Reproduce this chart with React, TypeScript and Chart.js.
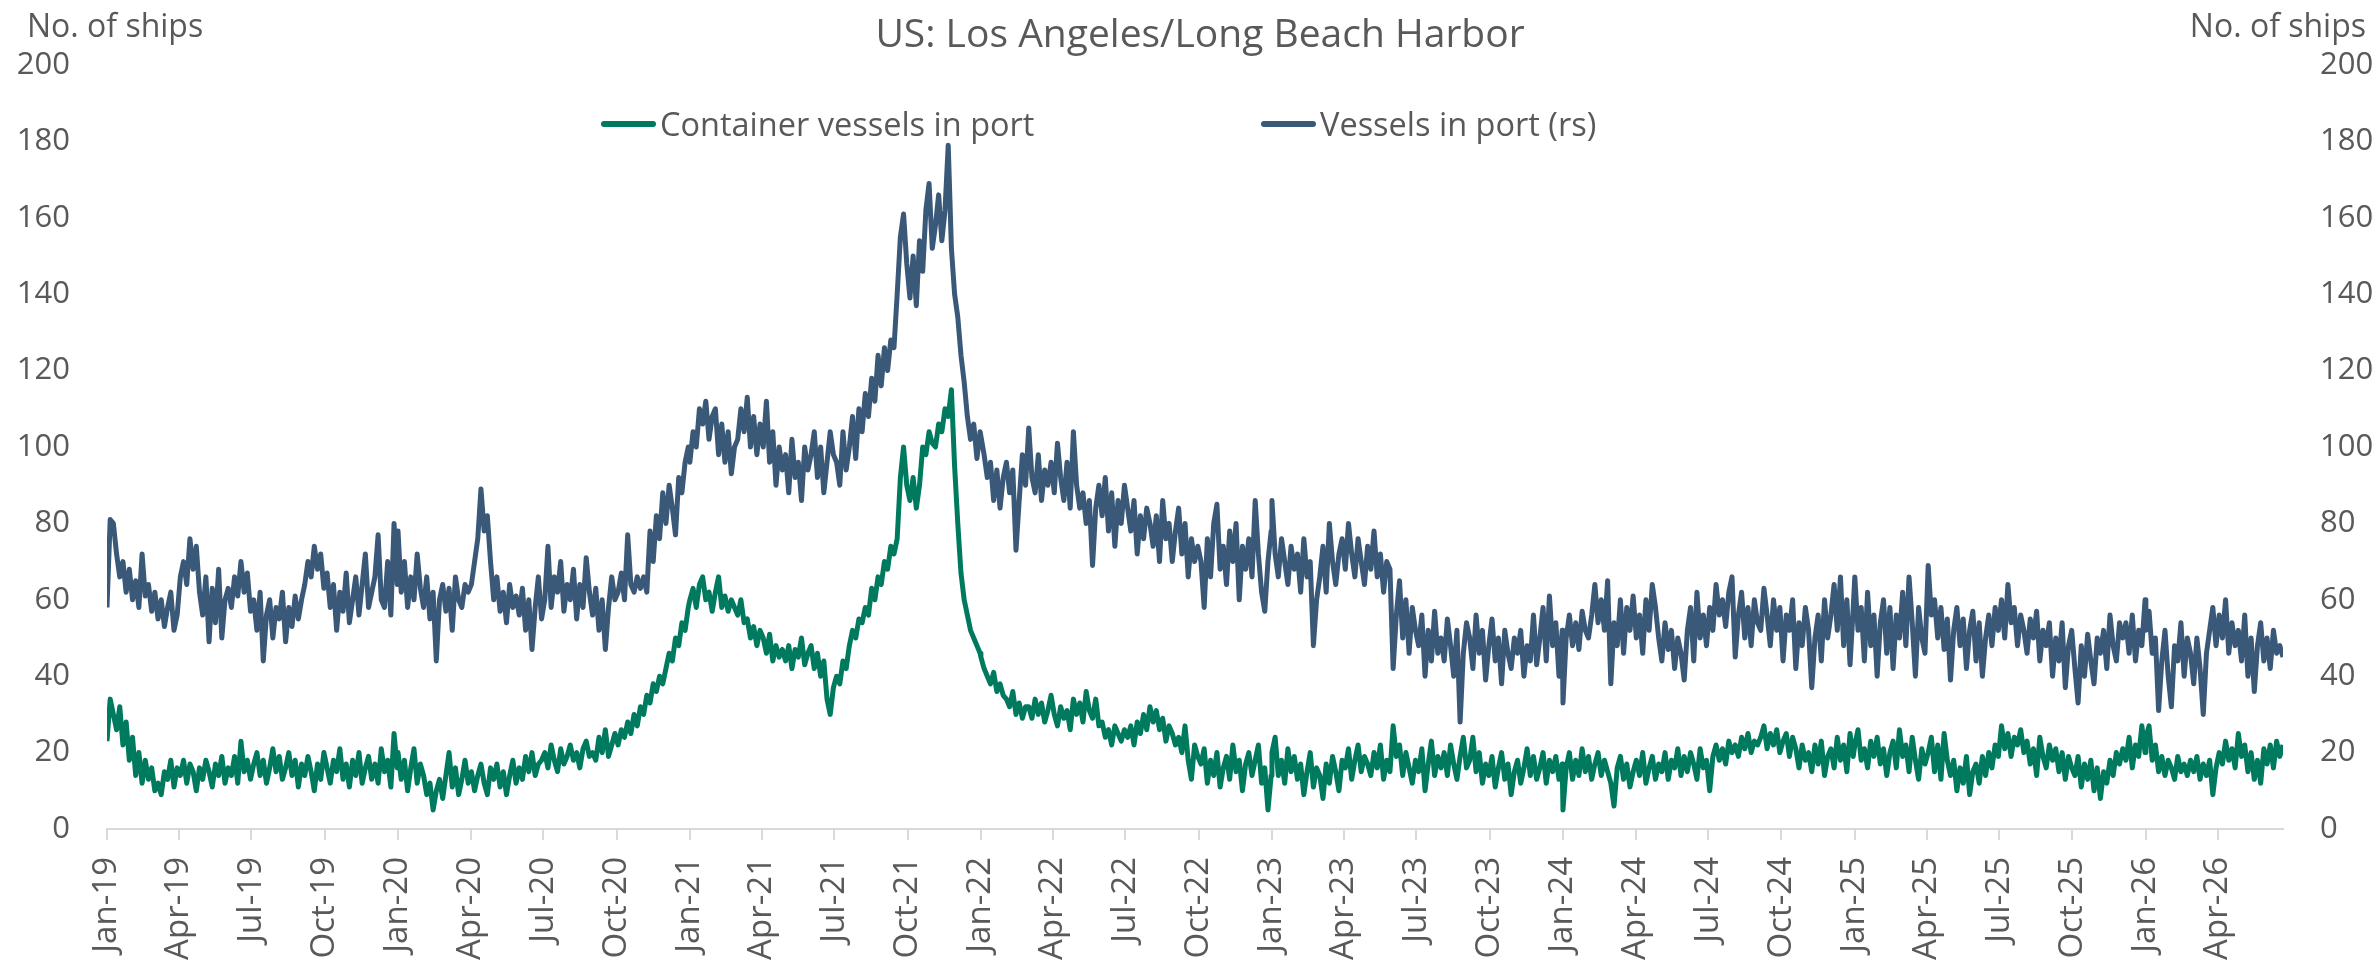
import React, { useEffect, useRef } from "react";
import { Chart, registerables } from "chart.js";

Chart.register(...registerables);

// ---------- text ----------
const chartTitle = "US: Los Angeles/Long Beach Harbor";
const axisTitle = "No. of ships";
const seriesNames = ["Container vessels in port", "Vessels in port (rs)"];
const quarterLabels = [
  "Jan-19", "Apr-19", "Jul-19", "Oct-19",
  "Jan-20", "Apr-20", "Jul-20", "Oct-20",
  "Jan-21", "Apr-21", "Jul-21", "Oct-21",
  "Jan-22", "Apr-22", "Jul-22", "Oct-22",
  "Jan-23", "Apr-23", "Jul-23", "Oct-23",
  "Jan-24", "Apr-24", "Jul-24", "Oct-24",
  "Jan-25", "Apr-25", "Jul-25", "Oct-25",
  "Jan-26", "Apr-26",
];
const yMin = 0;
const yMax = 200;
const yStep = 20;

// ---------- data: one value every 4 days from 1 Jan of each year ----------
const STEP_DAYS = 4;
const lastDate = [2026, 5, 22]; // 22 Jun 2026 (month 0-based)

const container2019 = [
  23, 34, 30, 26, 32, 22, 28, 18, 24, 14, 20, 12, 18, 13, 16, 10, 12, 9, 15, 13, 18, 11, 16,
  14, 18, 12, 17, 15, 10, 16, 13, 18, 15, 11, 17, 14, 19, 12, 16, 14, 19, 12, 23, 15, 18, 13,
  17, 20, 14, 18, 12, 16, 21, 15, 19, 13, 16, 20, 14, 18, 11, 17, 14, 19, 15, 10, 17, 13, 20,
  16, 12, 18, 15, 21, 13, 17, 11, 18, 14, 20, 12, 16, 19, 13, 17, 12, 21, 15, 18, 11, 25, 16,
];
const container2020 = [
  20, 13, 18, 10, 16, 21, 12, 17, 14, 9, 12, 5, 10, 13, 8, 14, 20, 11, 16, 9, 13, 18, 12,
  15, 10, 14, 17, 12, 9, 16, 13, 17, 11, 15, 9, 14, 18, 12, 16, 13, 19, 15, 20, 14, 17, 18,
  20, 16, 22, 18, 15, 21, 17, 19, 22, 18, 20, 16, 21, 23, 19, 20, 18, 24, 20, 26, 19, 22, 25,
  22, 26, 24, 28, 25, 30, 27, 32, 30, 35, 33, 38, 36, 40, 38, 42, 46, 44, 50, 48, 54, 52, 58,
];
const container2021 = [
  60, 63, 58, 64, 66, 60, 62, 57, 62, 66, 58, 61, 57, 60, 58, 56, 60, 54, 55, 50, 53, 48, 52,
  50, 46, 51, 44, 48, 45, 47, 44, 48, 42, 47, 45, 50, 43, 46, 48, 42, 46, 40, 44, 34, 30, 37,
  40, 38, 44, 42, 48, 52, 50, 55, 54, 58, 56, 63, 60, 66, 64, 70, 68, 74, 72, 76, 92, 100, 90,
  86, 92, 84, 90, 100, 98, 104, 101, 100, 106, 104, 110, 108, 115, 95, 80, 67, 60, 56, 52, 50, 48, 46,
];
const container2022 = [
  45, 42, 40, 38, 41, 36, 38, 35, 34, 32, 36, 30, 33, 29, 32, 32, 29, 34, 30, 33, 28, 31, 35,
  30, 27, 32, 29, 31, 26, 34, 30, 33, 28, 36, 31, 29, 34, 27, 28, 24, 26, 22, 27, 25, 23, 26,
  24, 27, 22, 28, 25, 30, 26, 32, 28, 31, 26, 29, 23, 27, 25, 22, 24, 20, 27, 18, 13, 22, 19,
  17, 21, 12, 18, 14, 20, 11, 16, 19, 13, 22, 15, 18, 10, 17, 20, 14, 18, 22, 12, 16, 5, 14,
];
const container2023 = [
  20, 24, 14, 18, 12, 21, 15, 19, 13, 17, 9, 15, 20, 11, 16, 14, 8, 17, 12, 19, 15, 10, 18,
  16, 21, 13, 18, 22, 15, 19, 17, 14, 20, 16, 22, 13, 18, 15, 27, 19, 22, 14, 20, 16, 12, 18,
  15, 21, 10, 17, 23, 14, 19, 16, 20, 14, 22, 17, 13, 19, 24, 16, 18, 24, 15, 20, 12, 17, 14,
  19, 11, 16, 20, 13, 17, 9, 15, 18, 12, 16, 21, 14, 19, 13, 16, 20, 12, 18, 15, 19, 13, 17,
];
const container2024 = [
  5, 16, 20, 13, 18, 14, 21, 15, 19, 13, 17, 20, 14, 18, 15, 12, 6, 16, 19, 13, 17, 11, 15,
  18, 14, 20, 12, 16, 19, 13, 17, 15, 20, 13, 18, 16, 21, 14, 19, 15, 20, 17, 13, 21, 16, 18,
  10, 19, 22, 18, 21, 17, 23, 20, 22, 19, 24, 21, 25, 20, 23, 22, 24, 27, 21, 25, 22, 26, 20,
  23, 25, 19, 24, 21, 16, 22, 18, 20, 15, 22, 17, 23, 14, 19, 21, 16, 24, 18, 22, 15, 25, 19,
];
const container2025 = [
  22, 26, 18, 21, 16, 23, 19, 24, 17, 21, 14, 20, 23, 16, 26, 19, 22, 15, 24, 18, 13, 21, 17,
  20, 24, 15, 22, 13, 25, 18, 14, 18, 10, 16, 12, 19, 9, 15, 17, 12, 19, 14, 20, 16, 22, 19,
  27, 21, 25, 19, 24, 22, 26, 20, 23, 17, 21, 14, 24, 19, 16, 22, 18, 21, 15, 20, 13, 19, 16,
  14, 19, 11, 17, 13, 18, 10, 16, 8, 15, 12, 18, 14, 20, 17, 21, 18, 24, 16, 22, 19, 27, 20,
];
const container2026 = [
  24, 27, 18, 22, 15, 19, 14, 18, 16, 13, 19, 15, 17, 14, 18, 15, 19, 13, 17, 14, 18, 9, 16,
  20, 17, 23, 18, 21, 16, 25, 19, 22, 15, 20, 13, 18, 12, 21, 17, 22, 16, 23, 19, 22,
];

const vessels2019 = [
  58, 81, 80, 72, 66, 70, 62, 68, 60, 65, 58, 72, 61, 64, 57, 62, 55, 60, 53, 58, 62, 52, 56,
  66, 70, 64, 76, 68, 74, 62, 56, 66, 49, 63, 54, 68, 50, 60, 63, 58, 66, 61, 70, 62, 67, 57,
  60, 52, 62, 44, 56, 60, 50, 58, 55, 62, 49, 58, 53, 61, 55, 60, 64, 70, 66, 74, 68, 72, 63,
  67, 58, 64, 52, 62, 57, 67, 54, 60, 66, 56, 64, 72, 58, 62, 66, 77, 60, 58, 70, 56, 80, 64,
];
const vessels2020 = [
  78, 62, 70, 58, 66, 60, 72, 63, 58, 66, 55, 62, 44, 60, 64, 57, 63, 52, 66, 60, 58, 64, 62,
  64, 70, 76, 89, 78, 82, 70, 60, 66, 57, 62, 54, 64, 58, 61, 56, 63, 52, 60, 47, 58, 66, 55,
  60, 74, 58, 66, 62, 70, 57, 64, 60, 68, 55, 64, 58, 71, 62, 56, 63, 52, 60, 47, 58, 66, 60,
  62, 67, 60, 77, 64, 62, 66, 63, 66, 62, 78, 70, 82, 76, 88, 80, 90, 84, 77, 92, 88, 96, 100,
];
const vessels2021 = [
  96, 104, 100, 110, 106, 112, 102, 108, 110, 98, 106, 96, 104, 93, 100, 102, 110, 104, 113, 100, 108, 98, 106,
  100, 112, 96, 104, 90, 100, 94, 98, 88, 102, 92, 96, 86, 100, 94, 98, 104, 92, 100, 88, 96, 104, 98,
  96, 90, 104, 94, 100, 108, 97, 110, 104, 114, 108, 118, 112, 124, 116, 126, 120, 128, 126, 140, 155, 161, 148,
  139, 150, 137, 154, 146, 162, 169, 152, 158, 166, 154, 162, 179, 152, 140, 134, 124, 117, 108, 102, 106, 97, 104,
];
const vessels2022 = [
  104, 98, 92, 96, 86, 94, 84, 92, 96, 88, 94, 73, 86, 98, 90, 105, 92, 88, 98, 86, 94, 90, 96,
  88, 101, 92, 86, 96, 84, 104, 90, 84, 88, 80, 86, 69, 84, 90, 82, 92, 78, 88, 74, 86, 80, 90,
  84, 78, 86, 72, 82, 76, 84, 80, 74, 82, 70, 86, 76, 80, 70, 78, 84, 72, 80, 66, 76, 70, 74,
  70, 58, 76, 66, 80, 85, 68, 74, 64, 78, 70, 80, 60, 74, 68, 76, 66, 86, 72, 62, 57, 70, 78,
];
const vessels2023 = [
  86, 72, 66, 76, 70, 64, 74, 68, 72, 62, 76, 66, 70, 48, 60, 66, 74, 62, 80, 70, 64, 72, 76,
  68, 80, 72, 66, 76, 70, 64, 74, 68, 78, 66, 72, 62, 70, 68, 42, 56, 65, 50, 60, 46, 58, 52,
  48, 56, 40, 52, 44, 57, 46, 50, 44, 55, 48, 40, 52, 28, 46, 54, 50, 42, 56, 46, 52, 39, 48,
  55, 44, 50, 38, 52, 46, 42, 50, 46, 52, 40, 48, 44, 56, 43, 50, 58, 44, 61, 48, 54, 40, 52,
];
const vessels2024 = [
  33, 50, 56, 48, 54, 47, 57, 52, 50, 56, 64, 54, 60, 52, 65, 38, 54, 48, 60, 46, 58, 52, 61,
  50, 56, 46, 60, 52, 64, 58, 50, 44, 54, 47, 52, 42, 50, 46, 39, 52, 58, 44, 62, 50, 56, 48,
  58, 52, 64, 56, 60, 53, 62, 66, 45, 56, 62, 50, 58, 48, 60, 54, 52, 63, 56, 48, 60, 52, 58,
  44, 56, 52, 60, 42, 54, 48, 58, 52, 37, 50, 56, 44, 60, 50, 56, 64, 52, 66, 48, 60, 43, 58,
];
const vessels2025 = [
  66, 52, 58, 44, 62, 48, 56, 40, 54, 60, 46, 58, 42, 56, 50, 62, 48, 66, 54, 40, 58, 50, 46,
  69, 56, 60, 50, 58, 47, 55, 39, 52, 58, 48, 55, 42, 52, 57, 44, 54, 40, 50, 56, 48, 58, 52,
  60, 50, 64, 54, 58, 48, 56, 52, 46, 55, 50, 57, 44, 52, 48, 54, 40, 50, 44, 54, 37, 48, 52,
  42, 33, 48, 40, 51, 44, 38, 50, 46, 52, 42, 56, 48, 44, 54, 50, 54, 46, 56, 44, 52, 48, 60,
];
const vessels2026 = [
  52, 57, 46, 50, 31, 44, 52, 40, 32, 48, 44, 54, 40, 50, 46, 38, 50, 42, 30, 46, 52, 58, 48,
  56, 50, 60, 46, 54, 48, 52, 44, 56, 40, 50, 36, 48, 54, 44, 50, 42, 52, 46, 48, 45,
];

const containerByYear: [number, number[]][] = [
  [2019, container2019], [2020, container2020], [2021, container2021], [2022, container2022],
  [2023, container2023], [2024, container2024], [2025, container2025], [2026, container2026],
];
const vesselsByYear: [number, number[]][] = [
  [2019, vessels2019], [2020, vessels2020], [2021, vessels2021], [2022, vessels2022],
  [2023, vessels2023], [2024, vessels2024], [2025, vessels2025], [2026, vessels2026],
];

// ---------- styles ----------
const GREEN = "#007A5E";
const BLUE = "#3A5878";
const TEXT = "#595959";
const AXIS = "#D9D9D9";
const FONT = "'Open Sans', 'Noto Sans', sans-serif";
const W = 2379;
const H = 962;

// ---------- helpers ----------
const MONTH_INDEX: Record<string, number> = { Jan: 0, Apr: 3, Jul: 6, Oct: 9 };
const dayOf = (y: number, m: number, d = 1) =>
  Math.round((Date.UTC(y, m, d) - Date.UTC(2019, 0, 1)) / 86400000);
const quarterDays = quarterLabels.map((l) => {
  const [mon, yy] = l.split("-");
  return dayOf(2000 + Number(yy), MONTH_INDEX[mon]);
});
const maxDay = dayOf(lastDate[0], lastDate[1], lastDate[2]);

function buildPoints(byYear: [number, number[]][]) {
  const pts: { x: number; y: number }[] = [];
  for (const [yr, vals] of byYear) {
    const start = dayOf(yr, 0, 1);
    vals.forEach((v, j) => pts.push({ x: start + j * STEP_DAYS, y: v }));
  }
  return pts;
}

const overlayPlugin = {
  id: "overlayText",
  afterDraw(chart: any) {
    const ctx = chart.ctx as CanvasRenderingContext2D;
    ctx.save();
    ctx.fillStyle = TEXT;
    ctx.textBaseline = "alphabetic";
    // title
    ctx.font = `39px ${FONT}`;
    ctx.textAlign = "center";
    ctx.fillText(chartTitle, 1200, 47);
    // axis titles
    ctx.font = `32px ${FONT}`;
    ctx.textAlign = "left";
    ctx.fillText(axisTitle, 27, 37);
    ctx.textAlign = "right";
    ctx.fillText(axisTitle, 2366, 37);
    // legend
    const legendX = [601, 1261];
    chart.data.datasets.forEach((ds: any, i: number) => {
      const x0 = legendX[i];
      ctx.strokeStyle = ds.borderColor;
      ctx.lineWidth = 6;
      ctx.lineCap = "round";
      ctx.beginPath();
      ctx.moveTo(x0 + 3, 124);
      ctx.lineTo(x0 + 52, 124);
      ctx.stroke();
      ctx.font = `32.5px ${FONT}`;
      ctx.textAlign = "left";
      ctx.fillStyle = TEXT;
      ctx.fillText(ds.label, x0 + 59, 136);
    });
    ctx.restore();
  },
};

export default function App() {
  const canvasRef = useRef<HTMLCanvasElement | null>(null);

  useEffect(() => {
    if (!canvasRef.current) return;
    const yTickFont = { family: FONT, size: 31 };
    const chart = new Chart(canvasRef.current, {
      type: "line",
      data: {
        datasets: [
          {
            label: seriesNames[0],
            data: buildPoints(containerByYear),
            borderColor: GREEN,
            backgroundColor: GREEN,
            borderWidth: 5,
            pointRadius: 0,
            tension: 0,
            borderJoinStyle: "round",
            yAxisID: "y",
          },
          {
            label: seriesNames[1],
            data: buildPoints(vesselsByYear),
            borderColor: BLUE,
            backgroundColor: BLUE,
            borderWidth: 5,
            pointRadius: 0,
            tension: 0,
            borderJoinStyle: "round",
            yAxisID: "y1",
          },
        ],
      },
      options: {
        animation: false,
        responsive: true,
        maintainAspectRatio: false,
        layout: { padding: { top: 65, left: 0, right: 0, bottom: 0 } },
        plugins: {
          legend: { display: false },
          title: { display: false },
          tooltip: { enabled: false },
        },
        scales: {
          x: {
            type: "linear",
            min: 0,
            max: maxDay,
            afterBuildTicks: (scale: any) => {
              scale.ticks = quarterDays.map((v) => ({ value: v }));
            },
            afterFit: (scale: any) => {
              scale.height = H - 829;
            },
            ticks: {
              autoSkip: false,
              minRotation: 90,
              maxRotation: 90,
              padding: 17,
              color: TEXT,
              font: { family: FONT, size: 33 },
              callback: (_v: any, i: number) => quarterLabels[i],
            },
            grid: {
              display: true,
              drawOnChartArea: false,
              drawTicks: true,
              tickLength: 11,
              color: AXIS,
              lineWidth: 2,
            },
            border: { display: true, color: AXIS, width: 2 },
          },
          y: {
            position: "left",
            min: yMin,
            max: yMax,
            afterFit: (scale: any) => {
              scale.width = 107;
            },
            ticks: { stepSize: yStep, padding: 37, color: TEXT, font: yTickFont },
            grid: { display: false, drawTicks: false },
            border: { display: false },
          },
          y1: {
            position: "right",
            min: yMin,
            max: yMax,
            afterFit: (scale: any) => {
              scale.width = W - 2283;
            },
            ticks: { stepSize: yStep, padding: 37, color: TEXT, font: yTickFont },
            grid: { display: false, drawTicks: false },
            border: { display: false },
          },
        },
      },
      plugins: [overlayPlugin],
    });
    return () => chart.destroy();
  }, []);

  return (
    <div
      style={{
        position: "absolute",
        left: 0,
        top: 0,
        width: W,
        height: H,
        background: "#ffffff",
      }}
    >
      <canvas ref={canvasRef} />
    </div>
  );
}
